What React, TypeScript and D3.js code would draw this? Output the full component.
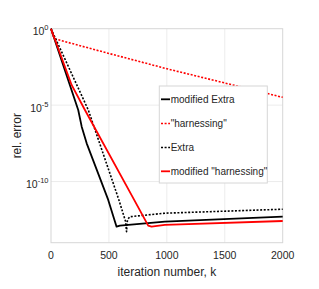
import React from "react";
import * as d3 from "d3";

const W = 319;
const H = 289;

// iteration numbers and log10(rel. error)
const modExtraK = [0, 235, 265, 308, 494, 545, 566, 595, 983, 2000];
const modExtraLog = [0, -5.32, -6.41, -7.5, -11.2, -12.45, -12.95, -12.88, -12.62, -12.3];

const harnK = [0, 20, 40, 500, 1000, 1500, 2000];
const harnLog = [0, -0.5, -0.68, -1.62, -2.62, -3.55, -4.49];

const extraK = [0, 322, 586, 644, 652, 660, 681, 983, 2000];
const extraLog = [0, -5.32, -11.2, -12.62, -13.28, -12.5, -12.3, -12.07, -11.81];

const modHarnK = [0, 178, 293, 718, 839, 868, 983, 2000];
const modHarnLog = [0, -3.68, -5.32, -11.2, -12.88, -12.95, -12.83, -12.58];

const xTicks = [0, 500, 1000, 1500, 2000];
const yTickExp = [0, -5, -10];

const legendLabels = ["modified Extra", "\"harnessing\"", "Extra", "modified \"harnessing\""];

export default function App() {
  const left = 51, right = 282.7, top = 28.7, bottom = 242.7;
  const x = d3.scaleLinear().domain([0, 2000]).range([left, right]);
  const y = d3.scaleLog().domain([1e-14, 1]).range([bottom, top]);

  const mk = (ks: number[], ls: number[]) =>
    d3.line<number>().x((_, i) => x(ks[i])).y((l) => y(Math.pow(10, l)))(ls) || "";

  const series = [
    { d: mk(modExtraK, modExtraLog), color: "#000", dash: undefined as string | undefined, w: 1.8 },
    { d: mk(harnK, harnLog), color: "#ff0000", dash: "2,1.6", w: 1.6 },
    { d: mk(extraK, extraLog), color: "#000", dash: "2,1.6", w: 1.6 },
    { d: mk(modHarnK, modHarnLog), color: "#ff0000", dash: undefined, w: 1.8 },
  ];
  const font = "Liberation Sans, Arial, sans-serif";
  const txt = "#262626";

  const lgX = 159.3, lgY = 86, lgW = 108, lgH = 97;
  const rows = [99.3, 123.5, 147.5, 171.3];

  return (
    <svg width={W} height={H} style={{ position: "absolute", left: 0, top: 0, background: "#fff" }}>
      {/* grid */}
      {xTicks.slice(1, -1).map((t) => (
        <line key={"gx" + t} x1={x(t)} x2={x(t)} y1={top} y2={bottom} stroke="#ececec" strokeWidth={1} />
      ))}
      {yTickExp.slice(1).map((e) => (
        <line key={"gy" + e} x1={left} x2={right} y1={y(Math.pow(10, e))} y2={y(Math.pow(10, e))} stroke="#ececec" strokeWidth={1} />
      ))}
      {/* box */}
      <rect x={left} y={top} width={right - left} height={bottom - top} fill="none" stroke="#d6d6d6" strokeWidth={1} />
      {/* series */}
      {series.map((s, i) => (
        <path key={i} d={s.d} fill="none" stroke={s.color} strokeWidth={s.w} strokeDasharray={s.dash} strokeLinejoin="round" />
      ))}
      {/* x tick labels */}
      {xTicks.map((t) => (
        <text key={"xt" + t} x={x(t)} y={259} textAnchor="middle" fontFamily={font} fontSize={10.5} fill={txt}>
          {t}
        </text>
      ))}
      {/* y tick labels */}
      {yTickExp.map((e) => (
        <text key={"yt" + e} x={48.5} y={y(Math.pow(10, e)) + 6.5} textAnchor="end" fontFamily={font} fontSize={10.5} fill={txt}>
          10
          <tspan dy={-5} fontSize={7.5}>{e}</tspan>
        </text>
      ))}
      {/* axis labels */}
      <text x={(left + right) / 2} y={275.5} textAnchor="middle" fontFamily={font} fontSize={12} fill={txt}>
        iteration number, k
      </text>
      <text
        transform={`translate(${21},${(top + bottom) / 2}) rotate(-90)`}
        textAnchor="middle"
        fontFamily={font}
        fontSize={12}
        fill={txt}
      >
        rel. error
      </text>
      {/* legend */}
      <rect x={lgX} y={lgY} width={lgW} height={lgH} fill="#fff" stroke="#d6d6d6" strokeWidth={1} />
      {series.map((s, i) => (
        <g key={"lg" + i}>
          <line x1={161} x2={170} y1={rows[i]} y2={rows[i]} stroke={s.color} strokeWidth={s.w} strokeDasharray={s.dash} />
          <text x={170.7} y={rows[i] + 3.6} fontFamily={font} fontSize={10} fill={txt}>
            {legendLabels[i]}
          </text>
        </g>
      ))}
    </svg>
  );
}
